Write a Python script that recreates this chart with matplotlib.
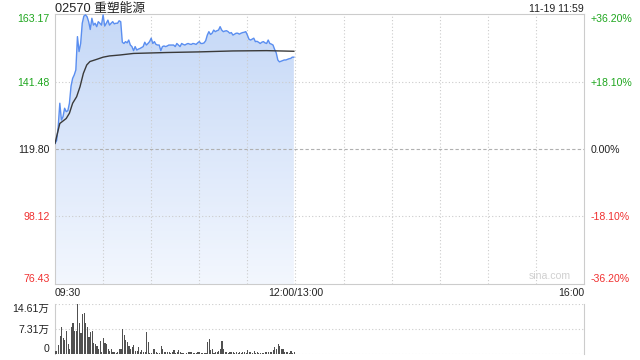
import numpy as np
import matplotlib.pyplot as plt
from matplotlib.colors import LinearSegmentedColormap

plt.rcParams['font.family'] = ['Liberation Sans', 'Noto Sans CJK SC', 'DejaVu Sans']

title = '02570 重塑能源'
stamp = '11-19 11:59'
prev_close = 119.80

# one price per minute from 09:30
price = [121.6, 122.5, 127.0, 134.5, 129.1, 130.2, 132.9, 131.8, 132.1, 134.5,
         140.0, 142.5, 143.6, 145.2, 155.9, 151.1, 153.7, 160.2, 162.5, 162.9,
         162.3, 160.7, 158.2, 161.8, 159.6, 160.2, 159.1, 160.7, 160.2, 159.6,
         162.9, 159.3, 160.2, 161.2, 159.6, 160.2, 160.7, 160.0, 160.2, 160.2,
         161.0, 160.7, 154.1, 153.7, 154.3, 153.9, 154.8, 153.2, 152.7, 151.4,
         152.7, 151.6, 151.9, 152.1, 152.4, 152.7, 154.1, 153.2, 153.7, 154.3,
         155.4, 153.7, 154.3, 153.4, 153.2, 153.2, 151.4, 152.7, 152.9, 152.7,
         152.9, 153.2, 153.2, 153.2, 153.2, 152.7, 153.7, 153.2, 152.7, 153.7,
         153.4, 153.2, 153.5, 153.7, 153.5, 153.4, 153.7, 153.6, 153.4, 153.9,
         154.3, 153.7, 153.7, 153.9, 154.6, 156.4, 157.5, 156.6, 157.0, 158.0,
         157.5, 157.8, 158.0, 159.1, 158.0, 157.5, 157.7, 157.8, 157.5, 157.0,
         157.2, 156.4, 156.7, 157.0, 157.0, 156.7, 157.0, 157.2, 157.3, 157.5,
         156.4, 155.1, 154.8, 155.1, 155.4, 154.3, 154.4, 154.1, 153.7, 154.1,
         154.3, 153.9, 153.7, 154.8, 153.7, 153.5, 153.2, 151.8, 150.7, 148.4,
         147.8, 148.0, 148.2, 148.4, 148.4, 148.6, 148.8, 148.9, 149.3, 149.3]

# average price line, read at a few minutes
avg_min = [0, 3, 7, 9, 11, 13.5, 15.6, 17.7, 19.8, 21.8, 26, 30, 34, 40.5, 49, 70, 90, 111, 132, 149]
avg_val = [121.6, 128.0, 129.6, 131.3, 134.5, 136.6, 139.8, 144.1, 146.8, 147.9,
           148.6, 149.3, 149.7, 150.0, 150.5, 150.8, 151.0, 151.3, 151.4, 151.2]

# volume per minute, in 万
vol = [0.87, 0.87, 2.6, 5.2, 8.0, 4.8, 4.2, 6.8, 2.9, 1.6,
       8.0, 9.0, 6.6, 6.6, 14.5, 9.0, 6.1, 11.6, 11.9, 9.0,
       8.0, 5.1, 6.5, 6.7, 3.2, 2.9, 2.2, 1.6, 3.7, 0.7,
       4.8, 3.2, 2.8, 1.6, 1.0, 1.6, 0.5, 0.5, 0.3, 0.7,
       1.6, 1.6, 7.3, 5.5, 4.2, 3.5, 2.4, 1.5, 1.9, 2.6,
       1.0, 1.0, 2.1, 0.7, 1.3, 0.7, 0.5, 6.5, 3.4, 0.3,
       0.3, 1.6, 1.5, 0.5, 0.3, 0.3, 2.2, 1.5, 0.5, 0.7,
       0.5, 0.7, 0.3, 0.5, 1.2, 0.3, 0.5, 1.2, 0.7, 0.3,
       0.3, 0.1, 0.2, 0.5, 0.7, 0.5, 0.2, 0.4, 0.3, 0.5,
       0.5, 0.3, 0.3, 0.3, 0.3, 3.4, 4.4, 1.2, 1.5, 0.3,
       0.5, 0.7, 1.0, 1.5, 3.8, 1.5, 0.5, 0.7, 0.3, 0.5,
       0.5, 0.5, 0.3, 0.5, 0.2, 0.5, 0.3, 0.7, 0.5, 0.3,
       1.1, 0.5, 0.5, 0.3, 0.9, 0.3, 0.5, 0.3, 0.2, 0.3,
       0.2, 0.5, 0.5, 0.7, 0.5, 0.5, 1.3, 2.1, 1.5, 2.9,
       2.3, 1.5, 1.5, 0.5, 0.5, 0.7, 0.3, 0.9, 0.3, 0.5]

price_ticks = [163.17, 141.48, 119.80, 98.12, 76.43]
price_labels = ['163.17', '141.48', '119.80', '98.12', '76.43']
pct_labels = ['+36.20%', '+18.10%', '0.00%', '-18.10%', '-36.20%']
tick_colors = ['#1ea61e', '#1ea61e', '#222222', '#f03030', '#f03030']
vol_ticks = [0, 7.31, 14.61]
vol_labels = ['0', '7.31万', '14.61万']
time_ticks = [0, 150, 330]
time_labels = ['09:30', '12:00/13:00', '16:00']

minutes = np.arange(len(price))
vmin = np.arange(len(vol))
lo, hi = price_ticks[-1], price_ticks[0]

fig = plt.figure(figsize=(6.4, 3.6), dpi=100)
ax = fig.add_axes([55/640, 76/360, 529/640, 270/360])
axv = fig.add_axes([55/640, 6/360, 529/640, 50/360])

fs = 7.6
grid_kw = dict(color='#cccccc', lw=0.8, linestyle=(0, (1, 2)), zorder=2)

# main price panel
ax.set_xlim(0, 330)
ax.set_ylim(lo, hi)
for t in range(30, 330, 30):
    ax.axvline(t, **grid_kw)
for p in price_ticks[1:-1]:
    if p == prev_close:
        ax.axhline(p, color='#b0b0b0', lw=0.8, linestyle=(0, (3, 2)), zorder=2)
    else:
        ax.axhline(p, **grid_kw)

fill = ax.fill_between(minutes, price, lo, color='none', lw=0)
grad = np.linspace(0, 1, 256).reshape(-1, 1)
cmap = LinearSegmentedColormap.from_list('g', ['#f3f7fe', '#c5d8f7'])
img = ax.imshow(grad, extent=[0, minutes[-1], lo, hi], origin='lower',
                aspect='auto', cmap=cmap, zorder=1)
img.set_clip_path(fill.get_paths()[0], transform=ax.transData)
ax.plot(minutes, price, color='#5a8ef0', lw=1.0, zorder=3)
ax.plot(avg_min, avg_val, color='#3a3a3a', lw=1.0, zorder=4)

for s in ax.spines.values():
    s.set_color('#cccccc')
ax.set_yticks(price_ticks)
ax.set_yticklabels(price_labels, fontsize=fs)
ax.tick_params(axis='y', length=0, pad=4)
for lab, c in zip(ax.get_yticklabels(), tick_colors):
    lab.set_color(c)
ax.get_yticklabels()[0].set_va('top')
ax.get_yticklabels()[-1].set_va('bottom')

ax2 = ax.twinx()
ax2.set_ylim(lo, hi)
ax2.set_yticks(price_ticks)
ax2.set_yticklabels(pct_labels, fontsize=fs)
ax2.tick_params(axis='y', length=0, pad=5)
for s in ax2.spines.values():
    s.set_visible(False)
for lab, c in zip(ax2.get_yticklabels(), tick_colors):
    lab.set_color(c)
ax2.get_yticklabels()[0].set_va('top')
ax2.get_yticklabels()[-1].set_va('bottom')

ax.set_xticks(time_ticks)
ax.set_xticklabels(time_labels, fontsize=fs, color='#222222')
ax.tick_params(axis='x', length=0, pad=3)
ax.get_xticklabels()[0].set_ha('left')
ax.get_xticklabels()[-1].set_ha('right')

ax.text(0, 1.007, title, transform=ax.transAxes, ha='left', va='baseline',
        fontsize=9.2, color='#222222')
ax.text(1, 1.007, stamp, transform=ax.transAxes, ha='right', va='baseline',
        fontsize=fs, color='#222222')
ax.text(0.975, 0.012, 'sina.com', transform=ax.transAxes, ha='right', va='bottom',
        fontsize=fs, color='#d0d0d0')

# volume panel
axv.set_xlim(0, 330)
axv.set_ylim(0, vol_ticks[-1])
for v in vol_ticks:
    axv.axhline(v, **grid_kw)
axv.bar(vmin + 0.2, vol, width=0.7, color='#505050', lw=0, zorder=3)
axv.spines['top'].set_visible(False)
axv.spines['bottom'].set_visible(False)
axv.spines['left'].set_color('#cccccc')
axv.spines['right'].set_color('#cccccc')
axv.set_xticks([])
axv.set_yticks(vol_ticks)
axv.set_yticklabels(vol_labels, fontsize=fs, color='#222222')
axv.tick_params(axis='y', length=0, pad=4)
axv.get_yticklabels()[0].set_va('bottom')
axv.get_yticklabels()[-1].set_va('top')

fig.savefig('out.png', dpi=100)
